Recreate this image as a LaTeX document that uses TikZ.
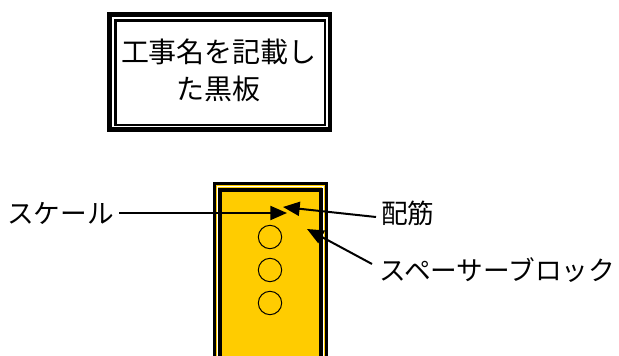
\documentclass[tikz,border=0pt]{standalone}
\usepackage{fontspec}
\newfontfamily\jpfont{Noto Sans CJK JP}
\usetikzlibrary{arrows.meta}
\definecolor{blockyellow}{HTML}{FFCC00}

\begin{document}
\begin{tikzpicture}[x=0.75pt, y=-0.75pt]
\tikzset{jptext/.style={font=\jpfont\fontsize{20}{24}\selectfont, inner sep=0pt}}
\tikzset{boardtext/.style={font=\jpfont\fontsize{21}{27.75}\selectfont, inner sep=0pt, align=center}}
\tikzset{pointer/.style={line width=1.5pt, -{Triangle[length=12.5pt, width=10.5pt]}}}
\tikzset{bar/.style={draw, line width=0.75pt, circle, minimum size=17.5pt, inner sep=0pt}}
\clip (0,0) rectangle (619,356);
% blackboard with the name of the work
\draw[line width=3.4pt] (109.5,14.5) rectangle (330,129.5);
\draw[line width=2.2pt] (115.5,20.5) rectangle (325,125);
\node[boardtext] (board) at (219,70.5) {工事名を記載し\\た黒板};
% spacer block
\fill[blockyellow] (214.5,183.5) rectangle (326,370);
\draw[line width=2.25pt] (214.5,183.5) rectangle (326,370);
\draw[white, line width=0.9pt] (217.5,186.5) rectangle (323,370);
\draw[line width=3pt] (220,190) rectangle (321,370);
\node[bar] (bar1) at (270,237) {};
\node[bar] (bar2) at (270,270) {};
\node[bar] (bar3) at (270,303) {};
% labels and arrows
\node[jptext, anchor=east] (scale) at (114,213) {スケール};
\node[jptext, anchor=west] (rebar) at (381,213) {配筋};
\node[jptext, anchor=west] (spacer) at (379,270) {スペーサーブロック};
\coordinate (scaletip) at (287,213);
\coordinate (rebartip) at (283,207);
\coordinate (spacertip) at (307,229);
\draw[pointer] (scale.east) ++(5,0) -- (scaletip);
\draw[pointer] (rebar.west) ++(-5,4) -- (rebartip);
\draw[pointer] (spacer.west) ++(-7,-6) -- (spacertip);
\end{tikzpicture}
\end{document}
